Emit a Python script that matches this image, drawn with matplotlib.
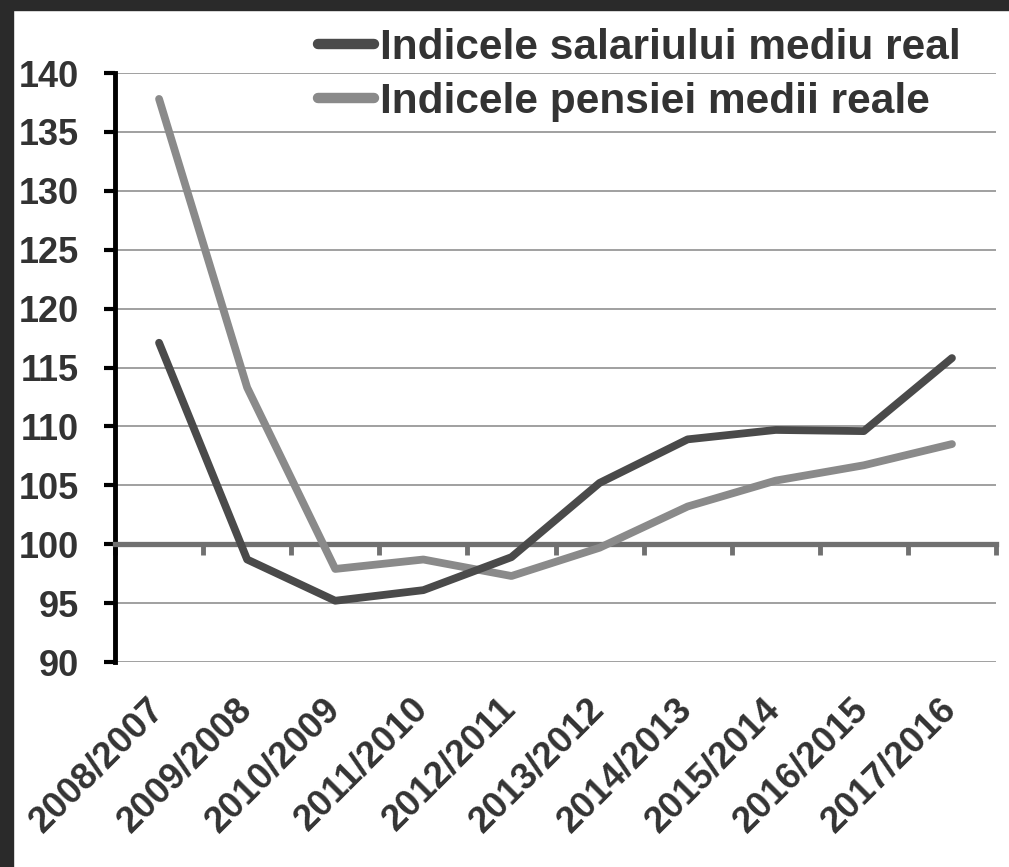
import numpy as np
import matplotlib
matplotlib.use("Agg")
import matplotlib.pyplot as plt
from matplotlib.patches import Rectangle
from matplotlib.transforms import ScaledTranslation

categories = ["2008/2007", "2009/2008", "2010/2009", "2011/2010", "2012/2011",
              "2013/2012", "2014/2013", "2015/2014", "2016/2015", "2017/2016"]
wage_index = [117.1, 98.7, 95.2, 96.1, 98.9, 105.2, 108.9, 109.7, 109.6, 115.8]
pension_index = [137.8, 113.3, 97.9, 98.7, 97.3, 99.7, 103.2, 105.4, 106.7, 108.5]
series_names = ["Indicele salariului mediu real", "Indicele pensiei medii reale"]
y_ticks = [90, 95, 100, 105, 110, 115, 120, 125, 130, 135, 140]

W, H = 1009, 867
fig = plt.figure(figsize=(W / 100, H / 100), dpi=100, facecolor="white")
ax = fig.add_axes([115 / W, 1 - 662 / H, (996 - 115) / W, (662 - 73) / H])
ax.set_facecolor("white")

txt = "#333333"
font = dict(family="Liberation Sans", weight="bold")

n = len(categories)
xc = np.arange(n) + 0.5
ax.set_xlim(0, n)
ax.set_ylim(90, 140)

ax.plot(xc, wage_index, color="#4a4a4a", lw=5.6, solid_capstyle="round",
        solid_joinstyle="round", zorder=4, label=series_names[0])
ax.plot(xc, pension_index, color="#8a8a8a", lw=5.6, solid_capstyle="round",
        solid_joinstyle="round", zorder=3, label=series_names[1])

# y axis
ax.set_yticks(y_ticks)
ax.set_yticklabels([str(v) for v in y_ticks], fontsize=26, color=txt, **font)
ax.tick_params(axis="y", direction="out", length=8, width=3, color="black", pad=18)
ax.yaxis.grid(True, color="#999999", lw=1.3)
ax.set_axisbelow(True)
for s in ["top", "right"]:
    ax.spines[s].set_visible(False)
ax.spines["left"].set_color("black")
ax.spines["left"].set_linewidth(3.5)
ax.spines["bottom"].set_position(("data", 100))
ax.spines["bottom"].set_color("#707070")
ax.spines["bottom"].set_linewidth(3.8)

# category boundary ticks on the 100 line
ax.set_xticks(np.arange(n + 1))
ax.set_xticklabels([])
ax.tick_params(axis="x", direction="out", length=8, width=3.5, color="#707070")

# category labels at the bottom
sec = ax.secondary_xaxis("bottom")
sec.set_xticks(xc)
sec.set_xticklabels(categories, rotation=45, ha="right", va="top",
                    rotation_mode="anchor", fontsize=26.5, color=txt, **font)
sec.tick_params(length=0, pad=21)
sec.spines["bottom"].set_visible(False)
shift = ScaledTranslation(-13 / 100, 0, fig.dpi_scale_trans)
for lbl in sec.get_xticklabels():
    lbl.set_transform(lbl.get_transform() + shift)

leg = ax.legend(loc="upper left", bbox_to_anchor=(318 / W, 1 - 28 / H),
                bbox_transform=fig.transFigure, frameon=False,
                prop=dict(size=30.5, **font), handlelength=1.33, handletextpad=0.13,
                labelspacing=0.32, borderpad=0, borderaxespad=0)
for t in leg.get_texts():
    t.set_color(txt)
for h in leg.get_lines():
    h.set_linewidth(7.5)
    h.set_solid_capstyle("round")

# dark frame at top and left
fig.add_artist(Rectangle((0, 1 - 10 / H), 1, 10 / H, transform=fig.transFigure,
                         color="#2a2a2a", zorder=10))
fig.add_artist(Rectangle((0, 0), 13 / W, 1, transform=fig.transFigure,
                         color="#2a2a2a", zorder=10))

fig.savefig("out.png", dpi=100, facecolor="white")
